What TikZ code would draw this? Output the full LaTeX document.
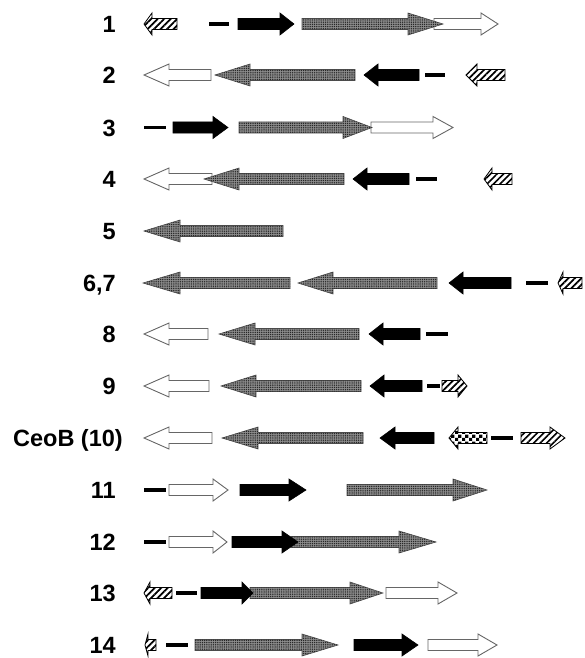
\documentclass[tikz,border=0pt]{standalone}
\usepackage{fontspec}
\setmainfont{Liberation Sans}
\usetikzlibrary{patterns,patterns.meta}
\pgfdeclarepatternformonly{finecheck}{\pgfpointorigin}{\pgfpoint{7pt}{7pt}}{\pgfpoint{7pt}{7pt}}{%
  \pgfpathrectangle{\pgfpointorigin}{\pgfpoint{3.5pt}{3.5pt}}%
  \pgfpathrectangle{\pgfpoint{3.5pt}{3.5pt}}{\pgfpoint{3.5pt}{3.5pt}}%
  \pgfusepath{fill}}
\newcommand\Gene[5]{% tail, head base, tip, y, style
  \filldraw[#5] (#1,{#4-5.5}) -- (#2,{#4-5.5}) -- (#2,{#4-11}) -- (#3,#4)
    -- (#2,{#4+11}) -- (#2,{#4+5.5}) -- (#1,{#4+5.5}) -- cycle;}
\newcommand\Spacer[3]{\draw[spacer] (#1,#3) -- (#2,#3);}
\tikzset{
  whitegene/.style={fill=white, draw=black!60, line width=0.9pt},
  graygene/.style={fill=black!45, draw=black!70, line width=0.6pt,
    postaction={pattern={Dots[distance=2.2pt,radius=0.75pt]}, pattern color=black!85}},
  blackgene/.style={fill=black, draw=black, line width=0.6pt},
  hatchgene/.style={pattern={Lines[angle=45,distance=4.6pt,line width=1.7pt]}, draw=black, line width=0.8pt},
  checkgene/.style={pattern=finecheck, draw=black, line width=0.8pt},
  spacer/.style={line width=3.4pt, draw=black},
  rowlabel/.style={anchor=base east, inner sep=0pt, font=\fontsize{23.5}{28}\selectfont\bfseries}
}
\begin{document}
\begin{tikzpicture}[x=1pt,y=-1pt]
\useasboundingbox (0,0) rectangle (585,658);
% labels
\node[rowlabel] (l1) at (116,32.5) {1};
\node[rowlabel] (l2) at (116,83.5) {2};
\node[rowlabel] (l3) at (116,136) {3};
\node[rowlabel] (l4) at (116,187.5) {4};
\node[rowlabel] (l5) at (116,239.5) {5};
\node[rowlabel] (l6) at (116,291.5) {6,7};
\node[rowlabel] (l8) at (116,342.5) {8};
\node[rowlabel] (l9) at (116,394.5) {9};
\node[rowlabel] (l10) at (123,446.5) {CeoB (10)};
\node[rowlabel] (l11) at (116,498.5) {11};
\node[rowlabel] (l12) at (116,550.5) {12};
\node[rowlabel] (l13) at (116,601.5) {13};
\node[rowlabel] (l14) at (116,653.5) {14};
% row 1
\Gene{177}{152}{144}{24}{hatchgene}
\Spacer{209}{229}{24}
\Gene{434}{481}{498}{24}{whitegene}
\Gene{302}{408}{443}{24}{graygene}
\Gene{238}{280}{294}{24}{blackgene}
% row 2
\Gene{211}{169}{144}{75}{whitegene}
\Gene{355}{250}{215}{75}{graygene}
\Gene{419}{378}{364}{75}{blackgene}
\Spacer{425}{445}{75}
\Gene{505}{477}{466}{75}{hatchgene}
% row 3
\Spacer{144}{166}{127.5}
\Gene{371}{433}{453}{127.5}{whitegene}
\Gene{239}{343}{372}{127.5}{graygene}
\Gene{173}{213}{228}{127.5}{blackgene}
% row 4
\Gene{212}{169}{144}{179}{whitegene}
\Gene{344}{239}{204}{179}{graygene}
\Gene{409}{367}{353}{179}{blackgene}
\Spacer{416}{437}{179}
\Gene{512}{492}{484}{179}{hatchgene}
% row 5
\Gene{283}{180}{144}{231}{graygene}
% row 6,7
\Gene{290}{180}{143}{283}{graygene}
\Gene{437}{333}{298}{283}{graygene}
\Gene{511}{463}{449}{283}{blackgene}
\Spacer{526}{548}{283}
\Gene{582}{563}{558}{283}{hatchgene}
% row 8
\Gene{208}{169}{144}{334}{whitegene}
\Gene{359}{255}{219}{334}{graygene}
\Gene{420}{383}{369}{334}{blackgene}
\Spacer{426}{448}{334}
% row 9
\Gene{209}{169}{144}{386}{whitegene}
\Gene{361}{256}{221}{386}{graygene}
\Gene{422}{384}{370}{386}{blackgene}
\Spacer{427}{440}{386}
\Gene{442}{458}{467}{386}{hatchgene}
% row 10
\Gene{212}{169}{144}{438}{whitegene}
\Gene{363}{258}{222}{438}{graygene}
\Gene{434}{395}{380}{438}{blackgene}
\Gene{487}{458}{449}{438}{checkgene}
\Spacer{491}{513}{438}
\Gene{521}{550}{565}{438}{hatchgene}
% row 11
\Spacer{144}{166}{490}
\Gene{169}{213}{228}{490}{whitegene}
\Gene{240}{289}{306}{490}{blackgene}
\Gene{347}{453}{487}{490}{graygene}
% row 12
\Spacer{144}{166}{542}
\Gene{169}{213}{227}{542}{whitegene}
\Gene{291}{399}{436}{542}{graygene}
\Gene{232}{282}{298}{542}{blackgene}
% row 13
\Gene{172}{150}{144}{593}{hatchgene}
\Spacer{176}{197}{593}
\Gene{386}{438}{457}{593}{whitegene}
\Gene{250}{350}{383}{593}{graygene}
\Gene{201}{242}{253}{593}{blackgene}
% row 14
\Gene{156}{148}{145}{645}{hatchgene}
\Spacer{166}{188}{645}
\Gene{195}{302}{338}{645}{graygene}
\Gene{354}{402}{418}{645}{blackgene}
\Gene{428}{478}{497}{645}{whitegene}
\end{tikzpicture}
\end{document}
